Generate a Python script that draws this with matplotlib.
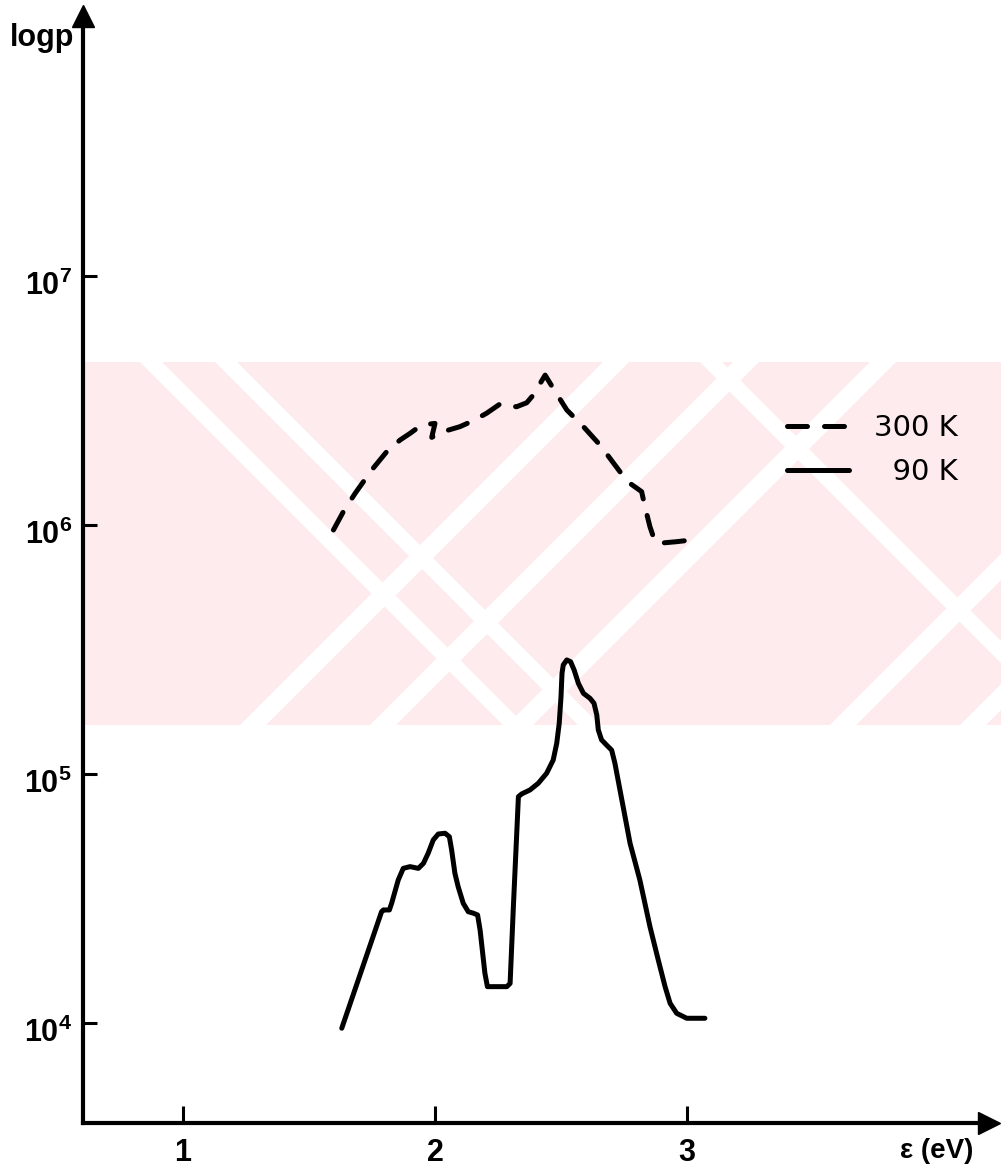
import numpy as np
import matplotlib
matplotlib.use("Agg")
import matplotlib.pyplot as plt
import matplotlib.transforms as mtransforms
from matplotlib.patches import Polygon

# Photon energy (eV) and log10 of the quantity p for the two temperatures
energy_300K = [1.597, 1.636, 1.683, 1.749, 1.808, 1.861, 1.901, 1.947, 2.000,
               1.987, 2.046, 2.099, 2.152, 2.205, 2.258, 2.291, 2.324, 2.364,
               2.390, 2.437, 2.469, 2.523, 2.589, 2.655, 2.734, 2.774, 2.820,
               2.833, 2.853, 2.873, 2.893, 2.959, 3.045]
logp_300K = [5.980, 6.053, 6.127, 6.221, 6.294, 6.341, 6.368, 6.402, 6.408,
             6.352, 6.379, 6.395, 6.419, 6.449, 6.486, 6.478, 6.475, 6.491,
             6.522, 6.602, 6.549, 6.462, 6.395, 6.321, 6.214, 6.167, 6.134,
             6.074, 5.993, 5.933, 5.927, 5.933, 5.943]

energy_90K = [1.630, 1.788, 1.795, 1.819, 1.828, 1.854, 1.874, 1.901, 1.934,
              1.954, 1.973, 1.993, 2.013, 2.040, 2.057, 2.066, 2.079, 2.092,
              2.112, 2.132, 2.152, 2.169, 2.179, 2.198, 2.208, 2.285, 2.298,
              2.311, 2.331, 2.344, 2.377, 2.410, 2.443, 2.469, 2.483, 2.493,
              2.500, 2.504, 2.509, 2.523, 2.538, 2.552, 2.569, 2.589, 2.615,
              2.631, 2.642, 2.648, 2.661, 2.681, 2.701, 2.714, 2.734, 2.774,
              2.813, 2.853, 2.886, 2.913, 2.933, 2.959, 2.999, 3.071]
logp_90K = [3.979, 4.447, 4.454, 4.454, 4.481, 4.574, 4.621, 4.628, 4.621,
            4.641, 4.682, 4.735, 4.759, 4.762, 4.748, 4.695, 4.601, 4.547,
            4.481, 4.447, 4.441, 4.434, 4.373, 4.200, 4.146, 4.146, 4.159,
            4.467, 4.909, 4.920, 4.936, 4.963, 5.003, 5.056, 5.123, 5.204,
            5.310, 5.404, 5.438, 5.458, 5.451, 5.418, 5.364, 5.324, 5.304,
            5.284, 5.237, 5.177, 5.137, 5.116, 5.096, 5.043, 4.936, 4.722,
            4.574, 4.387, 4.253, 4.146, 4.079, 4.039, 4.019, 4.019]

x_ticks = [1, 2, 3]
y_decades = [4, 5, 6, 7]
legend_labels = ["300 K", "  90 K"]

label_family = "Liberation Sans"
plt.rcParams["mathtext.fontset"] = "custom"
plt.rcParams["mathtext.rm"] = label_family
plt.rcParams["mathtext.bf"] = label_family + ":bold"

W, H = 1001, 1173
fig = plt.figure(figsize=(W / 100, H / 100), dpi=100)
fig.patch.set_facecolor("white")


# light pink background emblem behind the plot
def px_poly(pts, color):
    xy = [(x / W, 1 - y / H) for x, y in pts]
    fig.patches.append(Polygon(xy, closed=True, transform=fig.transFigure,
                               facecolor=color, edgecolor="none", zorder=-5))


pink = "#fdebee"
px_poly([(83, 362), (1001, 362), (1001, 725), (83, 725)], pink)
white = "white"
for x0 in [240, 370, 507, 830, 960]:
    # "/" stripes
    px_poly([(x0, 725), (x0 + 26, 725), (x0 + 26 + 363, 362), (x0 + 363, 362)], white)
for x0 in [140, 215, 700]:
    # "\" stripes
    px_poly([(x0, 362), (x0 + 22, 362), (x0 + 22 + 363, 725), (x0 + 363, 725)], white)

# data frame: 1 eV = 252 px, one decade = 249 px
x0_px, x1_px = 83, 989
y0_px, y1_px = 1123, 16
ax = fig.add_axes([x0_px / W, (H - y0_px) / H, (x1_px - x0_px) / W, (y0_px - y1_px) / H])
ax.set_zorder(2)
ax.set_facecolor("none")
ax.set_yscale("log")
ax.set_xlim(1 + (x0_px - 183) / 252, 1 + (x1_px - 183) / 252)
ax.set_ylim(10 ** (4 - (y0_px - 1023) / 249), 10 ** (4 + (1023 - y1_px) / 249))

lw = 3.6
l1, = ax.plot(energy_300K, 10 ** np.array(logp_300K), color="black", lw=lw,
              linestyle=(0, (4.0, 3.4)), dash_capstyle="round",
              dash_joinstyle="round")
l2, = ax.plot(energy_90K, 10 ** np.array(logp_90K), color="black", lw=lw,
              solid_capstyle="round", solid_joinstyle="round")

for s in ["top", "right"]:
    ax.spines[s].set_visible(False)
for s in ["left", "bottom"]:
    ax.spines[s].set_linewidth(3)

ax.set_xticks(x_ticks)
ax.set_xticklabels([str(t) for t in x_ticks], fontsize=22, fontweight="bold",
                   family=label_family)
ax.set_yticks([10.0 ** d for d in y_decades])
ax.set_yticklabels([r"$\mathbf{10^{%d}}$" % d for d in y_decades], fontsize=22)
ax.yaxis.set_minor_locator(matplotlib.ticker.NullLocator())
ax.tick_params(axis="x", direction="in", length=12, width=2.2, pad=11)
ax.tick_params(axis="y", direction="in", length=10, width=2.2, pad=8)
shift = mtransforms.ScaledTranslation(0, -6 / 100, fig.dpi_scale_trans)
for lab in ax.get_yticklabels():
    lab.set_transform(lab.get_transform() + shift)

# arrowheads on both axes
ax.plot(0, 1, marker="^", markersize=16, color="black", transform=ax.transAxes,
        clip_on=False)
ax.plot(1, 0, marker=">", markersize=16, color="black", transform=ax.transAxes,
        clip_on=False)

fig.text(10 / W, 1 - 38 / H, "logp", fontsize=22, fontweight="bold",
         family=label_family, ha="left", va="center")
fig.text(937 / W, 1 - 1151 / H, "ε (eV)", fontsize=20, fontweight="bold",
         family=label_family, ha="center", va="center")

leg = ax.legend([l1, l2], legend_labels, loc="center left",
                bbox_to_anchor=((772 - x0_px) / (x1_px - x0_px),
                                (y0_px - 450) / (y0_px - y1_px)),
                frameon=False, fontsize=21, handlelength=2.15, handletextpad=0.85,
                labelspacing=0.55, borderpad=0)

fig.savefig("out.png", dpi=100, facecolor="white")
